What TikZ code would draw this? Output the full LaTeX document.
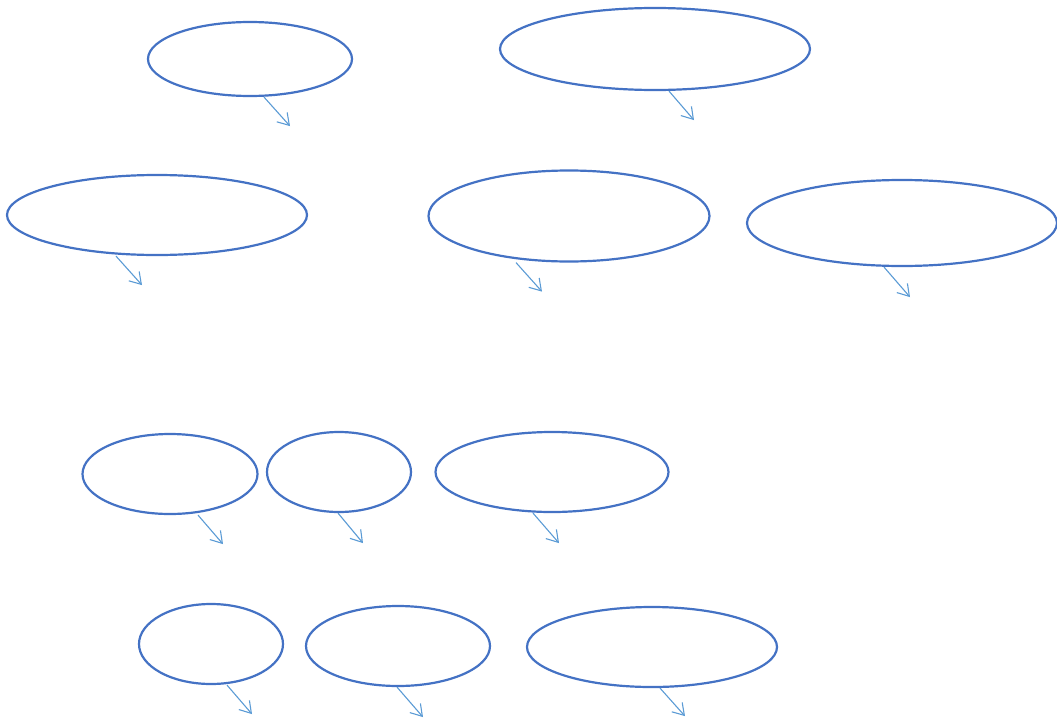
\documentclass[tikz,border=0pt]{standalone}
\usetikzlibrary{shapes.geometric,arrows.meta,calc}
\definecolor{ellblue}{RGB}{68,114,196}
\definecolor{arrblue}{RGB}{91,155,213}
\tikzset{
  bubble/.style={ellipse, draw=ellblue, line width=2.2pt, inner sep=0pt},
  pointer/.style={draw=arrblue, line width=1.1pt, -{Straight Barb[length=11pt,width=14pt,line width=1.1pt]}}
}
\begin{document}
\begin{tikzpicture}[x=1pt,y=-1pt]
\useasboundingbox (0,0) rectangle (1057,720);
\node[bubble, minimum width=204, minimum height=74] (e1) at (250,59) {};
\node[bubble, minimum width=310, minimum height=82] (e2) at (655,49) {};
\node[bubble, minimum width=300, minimum height=80] (e3) at (157,215) {};
\node[bubble, minimum width=281, minimum height=91] (e4) at (569,216) {};
\node[bubble, minimum width=310, minimum height=86] (e5) at (902,223) {};
\node[bubble, minimum width=175, minimum height=80] (e6) at (170,474) {};
\node[bubble, minimum width=144, minimum height=80] (e7) at (339,472) {};
\node[bubble, minimum width=233, minimum height=80] (e8) at (552,472) {};
\node[bubble, minimum width=144, minimum height=80] (e9) at (211,644) {};
\node[bubble, minimum width=184, minimum height=80] (e10) at (398,646) {};
\node[bubble, minimum width=250, minimum height=80] (e11) at (652,647) {};
\coordinate (s1) at ([xshift=14pt]e1.south);   \coordinate (t1) at ($(s1)+(26,29)$);
\coordinate (s2) at ([xshift=14pt]e2.south);   \coordinate (t2) at ($(s2)+(25,29)$);
\coordinate (s3) at ([xshift=-41pt]e3.south);  \coordinate (t3) at ($(s3)+(26,29)$);
\coordinate (s4) at ([xshift=-53pt]e4.south);  \coordinate (t4) at ($(s4)+(26,29)$);
\coordinate (s5) at ([xshift=-18pt]e5.south);  \coordinate (t5) at ($(s5)+(26,30)$);
\coordinate (s6) at ([xshift=28pt]e6.south);   \coordinate (t6) at ($(s6)+(25,29)$);
\coordinate (s7) at ([xshift=-1pt]e7.south);   \coordinate (t7) at ($(s7)+(25,30)$);
\coordinate (s8) at ([xshift=-19pt]e8.south);  \coordinate (t8) at ($(s8)+(26,30)$);
\coordinate (s9) at ([xshift=16pt]e9.south);   \coordinate (t9) at ($(s9)+(25,29)$);
\coordinate (s10) at ([xshift=-1pt]e10.south); \coordinate (t10) at ($(s10)+(26,30)$);
\coordinate (s11) at ([xshift=8pt]e11.south);  \coordinate (t11) at ($(s11)+(25,28)$);
\foreach \i in {1,...,11} {\draw[pointer] (s\i) -- (t\i);}
\end{tikzpicture}
\end{document}
